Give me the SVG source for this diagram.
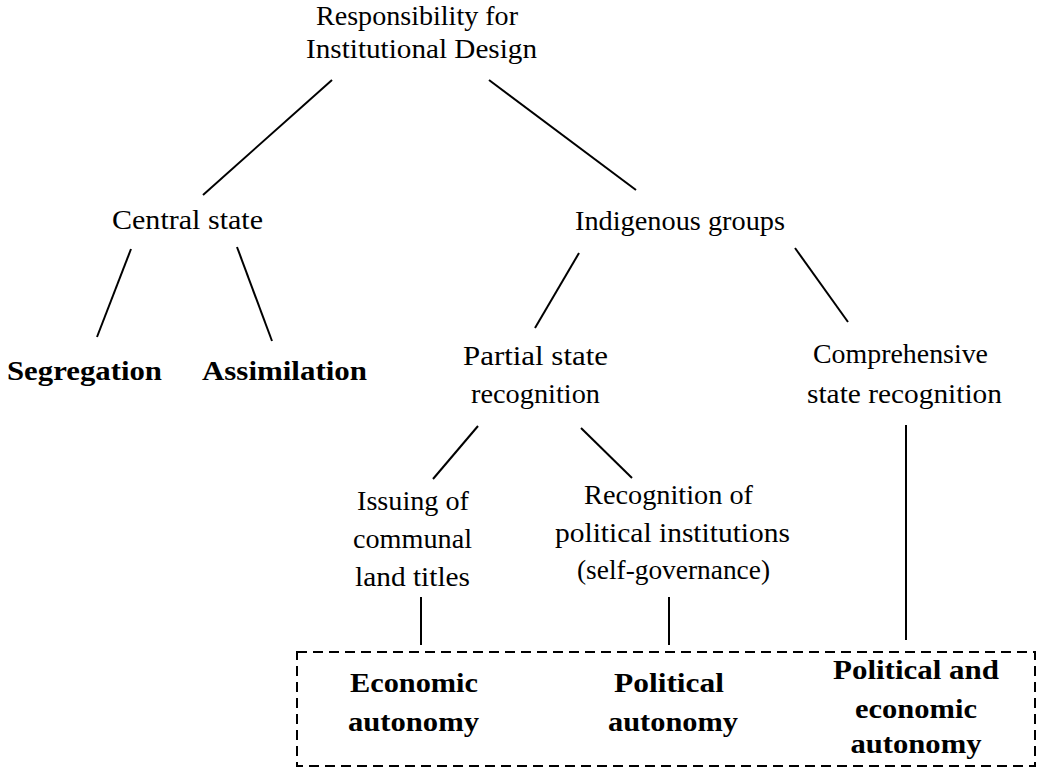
<svg xmlns="http://www.w3.org/2000/svg" width="1038" height="770" viewBox="0 0 1038 770">
<style>
text{font-family:"Liberation Serif","Times New Roman",serif;font-size:27px;fill:#000;text-anchor:middle}
.b{font-weight:bold}
.e{stroke:#000;stroke-width:2;fill:none}
.box{stroke:#000;stroke-width:2;fill:none;stroke-dasharray:10 6}
</style>
<rect width="1038" height="770" fill="#fff"/>
<g id="connectors">
<line class="e" x1="332" y1="80" x2="203" y2="195"/>
<line class="e" x1="489" y1="80" x2="636" y2="190"/>
<line class="e" x1="131" y1="249" x2="97" y2="337"/>
<line class="e" x1="237" y1="247" x2="272" y2="341"/>
<line class="e" x1="579" y1="253" x2="535" y2="328"/>
<line class="e" x1="795" y1="248" x2="848" y2="322"/>
<line class="e" x1="478" y1="426" x2="433" y2="479"/>
<line class="e" x1="581" y1="428" x2="632" y2="478"/>
<line class="e" x1="421" y1="597" x2="421" y2="645"/>
<line class="e" x1="669" y1="597" x2="669" y2="645"/>
<line class="e" x1="906" y1="425" x2="906" y2="640"/>
</g>
<g id="root"><text x="417" y="25" textLength="202" lengthAdjust="spacingAndGlyphs">Responsibility for</text><text x="421.5" y="58" textLength="231" lengthAdjust="spacingAndGlyphs">Institutional Design</text></g>
<g id="central"><text x="187.5" y="229" textLength="151" lengthAdjust="spacingAndGlyphs">Central state</text></g>
<g id="indigenous"><text x="680" y="230" textLength="210" lengthAdjust="spacingAndGlyphs">Indigenous groups</text></g>
<g id="segregation"><text class="b" x="84.5" y="380" textLength="155" lengthAdjust="spacingAndGlyphs">Segregation</text></g>
<g id="assimilation"><text class="b" x="284.5" y="380" textLength="165" lengthAdjust="spacingAndGlyphs">Assimilation</text></g>
<g id="partial"><text x="535.5" y="365" textLength="145" lengthAdjust="spacingAndGlyphs">Partial state</text><text x="535.5" y="403" textLength="129" lengthAdjust="spacingAndGlyphs">recognition</text></g>
<g id="comprehensive"><text x="900.5" y="363" textLength="175" lengthAdjust="spacingAndGlyphs">Comprehensive</text><text x="904.5" y="403" textLength="195" lengthAdjust="spacingAndGlyphs">state recognition</text></g>
<g id="issuing"><text x="413" y="510" textLength="112" lengthAdjust="spacingAndGlyphs">Issuing of</text><text x="412.5" y="548" textLength="119" lengthAdjust="spacingAndGlyphs">communal</text><text x="412.5" y="586" textLength="115" lengthAdjust="spacingAndGlyphs">land titles</text></g>
<g id="recognition"><text x="668.5" y="504" textLength="169" lengthAdjust="spacingAndGlyphs">Recognition of</text><text x="672.5" y="542" textLength="235" lengthAdjust="spacingAndGlyphs">political institutions</text><text x="673.5" y="579" textLength="193" lengthAdjust="spacingAndGlyphs">(self-governance)</text></g>
<g id="outcomes">
<rect class="box" x="297" y="652" width="738" height="114"/>
<g id="economic"><text class="b" x="414" y="692" textLength="128" lengthAdjust="spacingAndGlyphs">Economic</text><text class="b" x="413.5" y="731" textLength="131" lengthAdjust="spacingAndGlyphs">autonomy</text></g>
<g id="political"><text class="b" x="669" y="692" textLength="110" lengthAdjust="spacingAndGlyphs">Political</text><text class="b" x="673" y="731" textLength="130" lengthAdjust="spacingAndGlyphs">autonomy</text></g>
<g id="both"><text class="b" x="916" y="679" textLength="166" lengthAdjust="spacingAndGlyphs">Political and</text><text class="b" x="916" y="718" textLength="122" lengthAdjust="spacingAndGlyphs">economic</text><text class="b" x="916" y="753" textLength="131" lengthAdjust="spacingAndGlyphs">autonomy</text></g>
</g>
</svg>
